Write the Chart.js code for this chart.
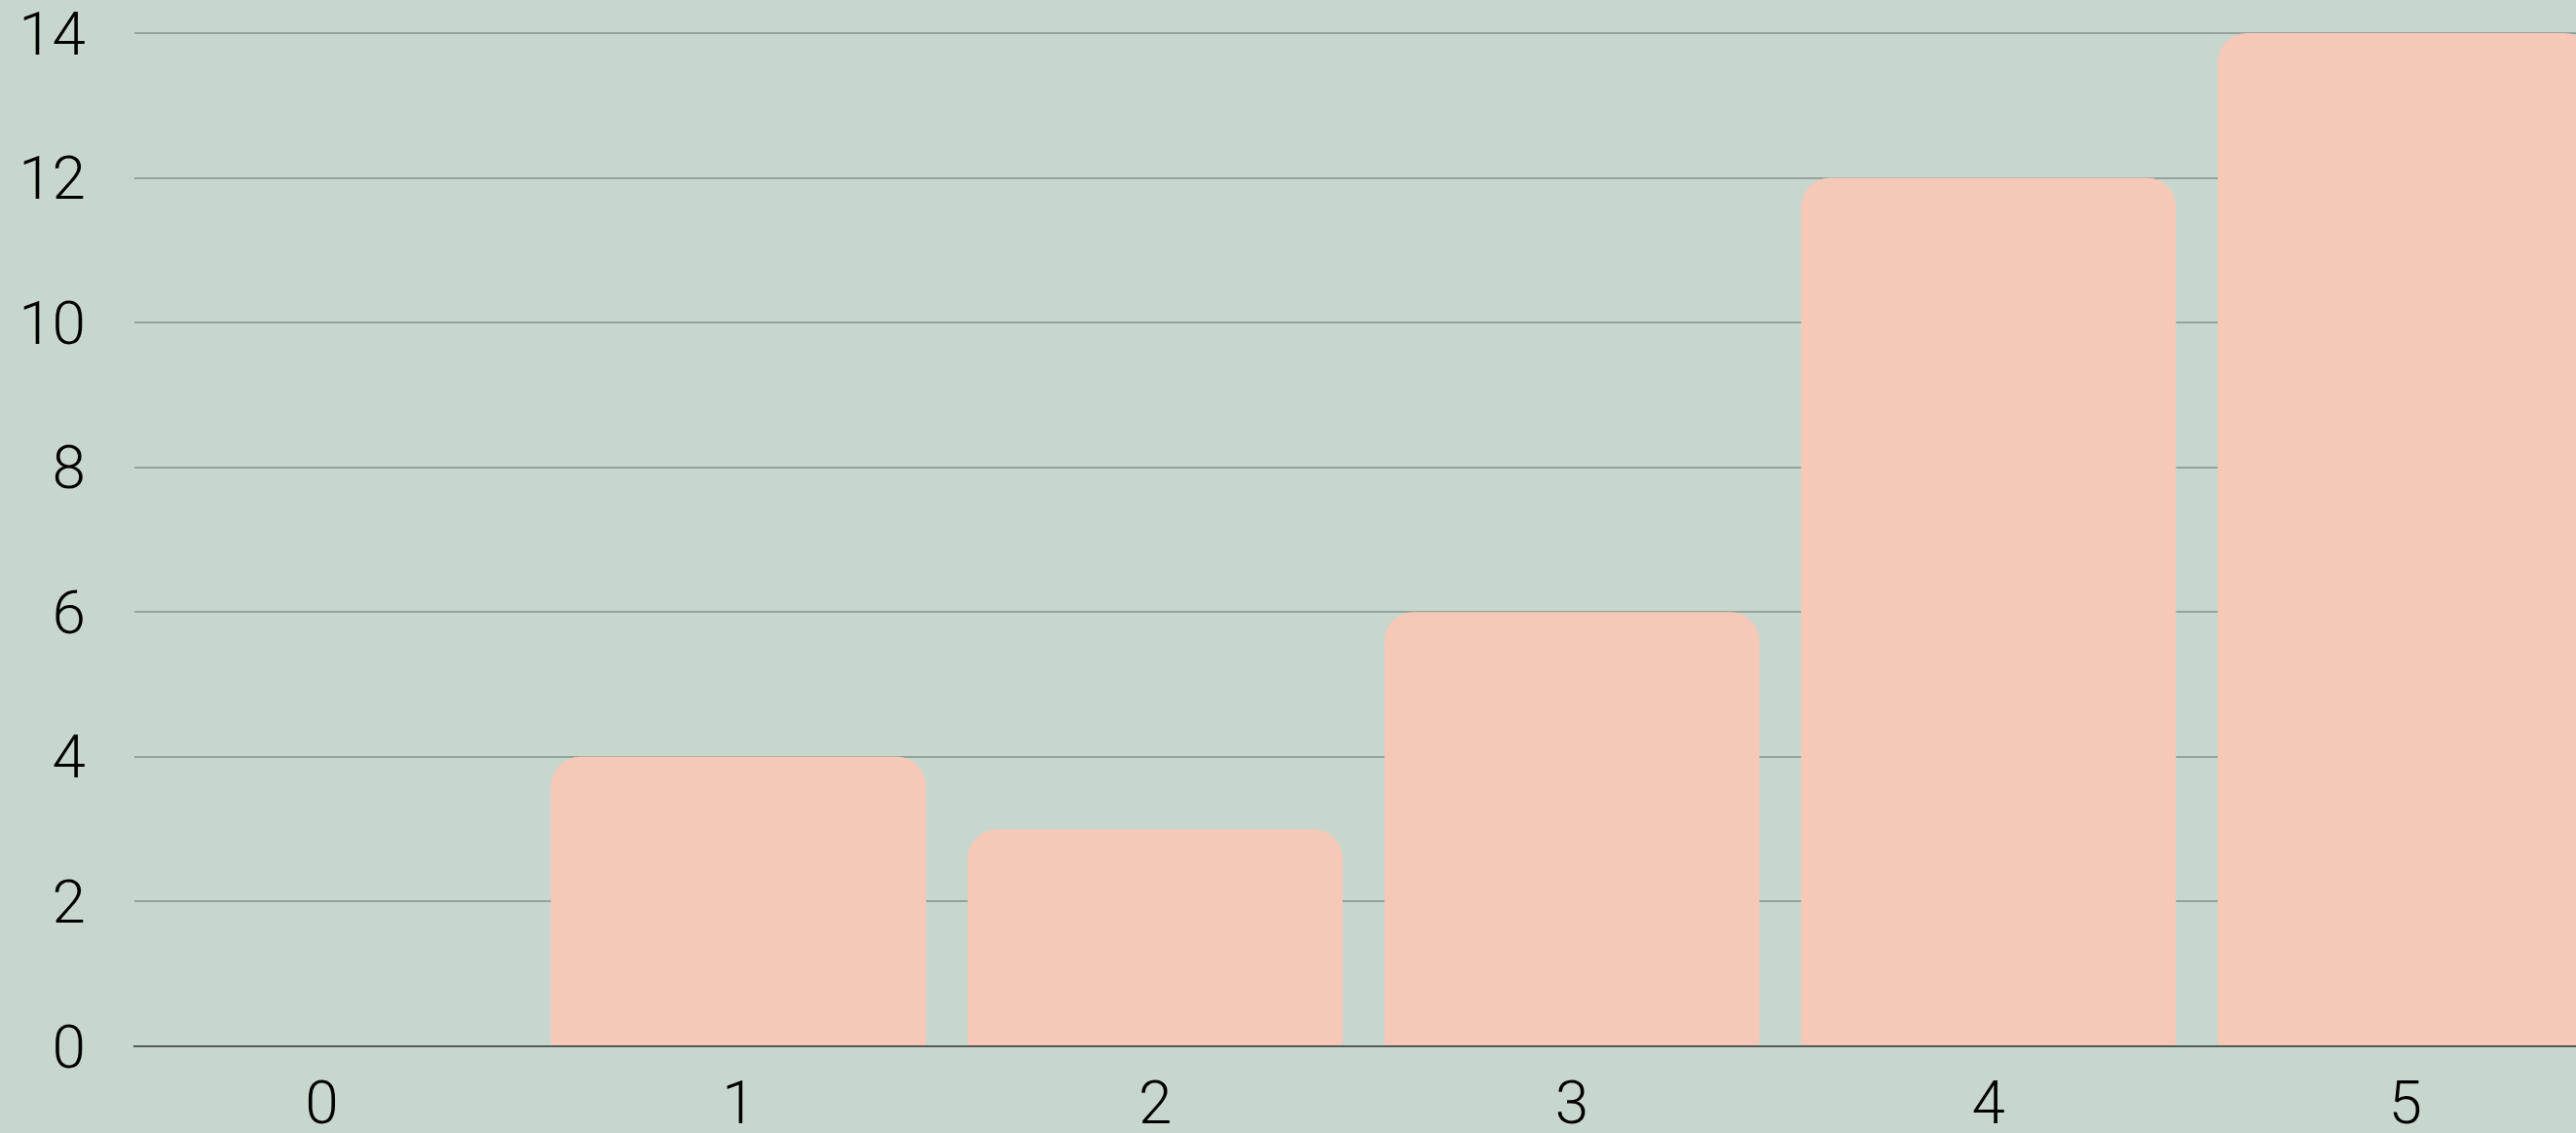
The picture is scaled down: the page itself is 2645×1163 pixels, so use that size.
<!DOCTYPE html>
<html>
<head>
<meta charset="utf-8">
<script src="https://cdn.jsdelivr.net/npm/chart.js@4/dist/chart.umd.min.js"></script>
<style>
  html, body { margin: 0; padding: 0; background: #c8d7cd; overflow: hidden; }
  #wrap { width: 2645px; height: 1163px; position: relative; }
</style>
</head>
<body>
<div id="wrap"><canvas id="c"></canvas></div>
<script>
const categories = ['0', '1', '2', '3', '4', '5'];
const values = [0, 4, 3, 6, 12, 14];
const yTicks = [0, 2, 4, 6, 8, 10, 12, 14];

const points = categories.map((c, i) => ({ x: i, y: values[i] }));
const fontSpec = { family: 'Roboto, Inter, sans-serif', size: 62, weight: 300, lineHeight: 1.12 };

new Chart(document.getElementById('c'), {
  type: 'bar',
  data: {
    datasets: [{
      data: points,
      backgroundColor: '#f6c8b8',
      borderWidth: 0,
      borderRadius: 30,
      borderSkipped: 'start',
      categoryPercentage: 1,
      barPercentage: 0.9
    }]
  },
  options: {
    responsive: true,
    maintainAspectRatio: false,
    animation: false,
    events: [],
    layout: { padding: 0 },
    plugins: { legend: { display: false }, tooltip: { enabled: false } },
    scales: {
      x: {
        type: 'linear',
        offset: false,
        min: -0.45,
        max: 5.41,
        afterFit: (s) => { s.height = 89; s.paddingLeft = 0; s.paddingRight = 0; },
        grid: { display: false, drawTicks: false },
        border: { display: true, color: '#525b56', width: 2 },
        ticks: {
          stepSize: 1,
          includeBounds: false,
          autoSkip: false,
          maxRotation: 0,
          padding: 29,
          color: '#000',
          font: fontSpec,
          callback: (v) => categories[v] !== undefined && Number.isInteger(v) ? categories[v] : ''
        }
      },
      y: {
        min: yTicks[0],
        max: yTicks[yTicks.length - 1],
        afterFit: (s) => { s.width = 138; s.paddingTop = 34; s.paddingBottom = 0; },
        grid: { color: '#95a49b', lineWidth: 2, drawTicks: false },
        border: { display: false },
        afterBuildTicks: (s) => { s.ticks = yTicks.map(v => ({ value: v })); },
        ticks: {
          padding: 50,
          labelOffset: 6,
          color: '#000',
          font: fontSpec
        }
      }
    }
  }
});
</script>
</body>
</html>
